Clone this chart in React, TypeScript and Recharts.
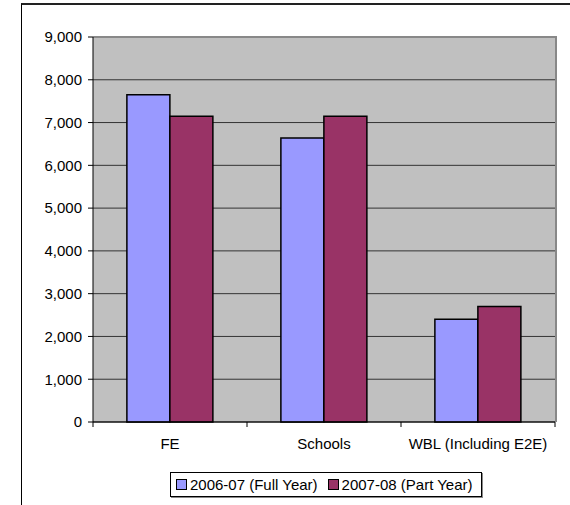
import { Bar, BarChart, CartesianGrid, ReferenceLine, XAxis, YAxis } from 'recharts'

const categories = ['FE', 'Schools', 'WBL (Including E2E)']
const fullYear0607 = [7650, 6640, 2400]
const partYear0708 = [7150, 7150, 2700]
const yTicks = [0, 1000, 2000, 3000, 4000, 5000, 6000, 7000, 8000, 9000]
const seriesNames = ['2006-07 (Full Year)', '2007-08 (Part Year)']

const data = categories.map((name, i) => ({
  name,
  a: fullYear0607[i],
  b: partYear0708[i],
}))

const FONT = '"Liberation Sans", Arial, sans-serif'

const CategoryTick = (props: any) => {
  const { x, y, width, visibleTicksCount, index, payload } = props
  const band = width / visibleTicksCount
  const left = x - band / 2
  return (
    <g>
      <line x1={left} x2={left} y1={y} y2={y + 5} stroke="#000" />
      {index === visibleTicksCount - 1 && (
        <line x1={left + band} x2={left + band} y1={y} y2={y + 5} stroke="#000" />
      )}
      <text x={x} y={y + 27} textAnchor="middle" fill="#000" fontSize={15} fontFamily={FONT}>
        {payload.value}
      </text>
    </g>
  )
}

const App = () => {
  return (
    <div style={{ position: 'absolute', left: 0, top: 0, width: 570, height: 505, overflow: 'hidden', background: '#fff' }}>
      <div
        style={{
          position: 'absolute',
          left: 21,
          top: 3,
          width: 600,
          height: 600,
          borderLeft: '1px solid #000',
          borderTop: '2px solid #222',
        }}
      />
      <BarChart
        width={570}
        height={505}
        data={data}
        margin={{ top: 37, right: 15, left: 33, bottom: 53 }}
        barGap={0}
        barCategoryGap="22%"
        style={{ position: 'absolute', left: 0, top: 0 }}
      >
        <CartesianGrid fill="#C0C0C0" vertical={false} stroke="#333" strokeOpacity={1} />
        <XAxis
          dataKey="name"
          height={30}
          tickLine={false}
          tickSize={0}
          tickMargin={0}
          interval={0}
          axisLine={{ stroke: '#000' }}
          tick={<CategoryTick />}
        />
        <YAxis
          width={60}
          domain={[0, 9000]}
          ticks={yTicks}
          interval={0}
          tickSize={5}
          tickMargin={6}
          tickLine={{ stroke: '#000' }}
          axisLine={{ stroke: '#000' }}
          tick={{ fill: '#000', fontSize: 15, fontFamily: FONT }}
          tickFormatter={(v: number) => v.toLocaleString('en-US')}
        />
        <ReferenceLine y={9000} stroke="#888" strokeWidth={2} />
        <Bar dataKey="a" name={seriesNames[0]} fill="#9999FF" stroke="#000" strokeWidth={1.5} isAnimationActive={false} />
        <Bar dataKey="b" name={seriesNames[1]} fill="#993366" stroke="#000" strokeWidth={1.5} isAnimationActive={false} />
      </BarChart>
      <div
        style={{
          position: 'absolute',
          left: 555,
          top: 36,
          width: 2,
          height: 386,
          background: '#888',
        }}
      />
      <div
        style={{
          position: 'absolute',
          left: 170,
          top: 472,
          height: 25,
          boxSizing: 'border-box',
          border: '1px solid #000',
          boxShadow: '1px 1px 0 #888',
          display: 'flex',
          alignItems: 'center',
          padding: '0 8px 0 5px',
          fontFamily: FONT,
          fontSize: 15,
          color: '#000',
          whiteSpace: 'nowrap',
        }}
      >
        {seriesNames.map((n, i) => (
          <span key={n} style={{ display: 'flex', alignItems: 'center', marginLeft: i ? 10 : 0 }}>
            <span
              style={{
                display: 'inline-block',
                width: 9,
                height: 9,
                border: '1px solid #000',
                background: i ? '#993366' : '#9999FF',
                marginRight: 3,
              }}
            />
            {n}
          </span>
        ))}
      </div>
    </div>
  )
}

export default App
